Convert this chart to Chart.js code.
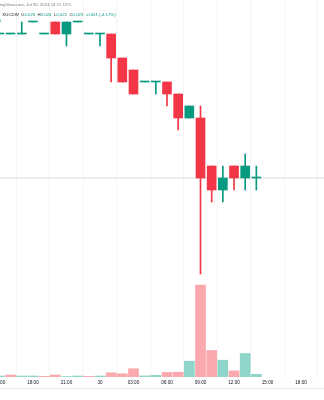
<!DOCTYPE html>
<html>
<head>
<meta charset="utf-8">
<script src="https://cdn.jsdelivr.net/npm/chart.js@4.4.1/dist/chart.umd.min.js"></script>
<style>
  html, body { margin: 0; padding: 0; background: #fff; }
  #wrap { position: relative; width: 324px; height: 400px; overflow: hidden; font-family: "Liberation Sans", Arial, sans-serif; }
  #chart { position: absolute; left: 0; top: 0; }
  .hdr { position: absolute; white-space: nowrap; font-size: 4.3px; line-height: 6px; }
  #l1 { left: -9px; top: 2px; color: #787b86; }
  #l2 { left: 2.5px; top: 12px; color: #131722; }
  #l2 .v { color: #089981; }
  #l3 { left: -1.5px; top: 18px; color: #089981; }
  #sep { position: absolute; left: 0; top: 388px; width: 324px; height: 1px; background: #eceef2; }
</style>
</head>
<body>
<div id="wrap">
  <canvas id="chart" width="324" height="400"></canvas>
  <div class="hdr" id="l1">TradingView.com, Jul 30, 2024 14:21 UTC</div>
  <div class="hdr" id="l2">KUCDW &nbsp;O<span class="v">0.023</span> &nbsp;H<span class="v">0.024</span> &nbsp;L<span class="v">0.022</span> &nbsp;C<span class="v">0.023</span> &nbsp;<span class="v">-0.001 (-4.17%)</span></div>
  <div class="hdr" id="l3">4</div>
  <div id="sep"></div>
</div>
<script>
// hourly candles, Jul 29 15:00 -> Jul 30 14:00 (UTC)
const hours = ['15:00', '16:00', '17:00', '18:00', '19:00', '20:00', '21:00', '22:00', '23:00',
               '00:00', '01:00', '02:00', '03:00', '04:00', '05:00', '06:00', '07:00', '08:00',
               '09:00', '10:00', '11:00', '12:00', '13:00', '14:00'];
const open  = [0.035, 0.035, 0.035, 0.036, 0.035, 0.036, 0.035, 0.036, 0.035, 0.035, 0.035, 0.033,
               0.032, 0.031, 0.031, 0.031, 0.030, 0.028, 0.028, 0.024, 0.022, 0.024, 0.023, 0.023];
const high  = [0.035, 0.035, 0.036, 0.036, 0.035, 0.036, 0.036, 0.036, 0.035, 0.035, 0.035, 0.033,
               0.032, 0.031, 0.031, 0.031, 0.030, 0.029, 0.029, 0.024, 0.024, 0.024, 0.025, 0.024];
const low   = [0.035, 0.035, 0.035, 0.036, 0.035, 0.035, 0.034, 0.036, 0.035, 0.034, 0.031, 0.031,
               0.030, 0.031, 0.030, 0.029, 0.027, 0.028, 0.015, 0.021, 0.021, 0.022, 0.022, 0.022];
const close = [0.035, 0.035, 0.035, 0.036, 0.035, 0.035, 0.036, 0.036, 0.035, 0.035, 0.033, 0.031,
               0.030, 0.031, 0.031, 0.030, 0.028, 0.029, 0.023, 0.022, 0.023, 0.023, 0.024, 0.023];
const volume = [20, 40, 20, 20, 14, 40, 10, 20, 14, 20, 84, 64,
                166, 22, 34, 92, 96, 316, 1840, 530, 336, 124, 470, 54];
const volumeUp = [1, 0, 1, 1, 0, 0, 1, 1, 0, 1, 0, 0,
                  0, 1, 1, 0, 0, 1, 0, 0, 1, 0, 1, 1];
// time axis labels every 3 hours, starting at Jul 29 15:00
const tickLabels = ['15:00', '18:00', '21:00', '30', '03:00', '06:00', '09:00', '12:00', '15:00', '18:00'];

const UP = '#089981', DOWN = '#F23645';
const VOL_UP = 'rgba(34, 171, 148, 0.5)', VOL_DOWN = 'rgba(247, 82, 95, 0.5)';
const lastClose = close[close.length - 1];
const candleColors = open.map((o, i) => close[i] >= o ? UP : DOWN);

const ctx = document.getElementById('chart').getContext('2d');
new Chart(ctx, {
    type: 'bar',
    data: {
        datasets: [{
            label: 'Body',
            data: hours.map((h, i) => ({ x: i, y: [open[i], close[i]] })),
            backgroundColor: candleColors,
            barThickness: 9,
            minBarLength: 1,
            grouped: false,
            yAxisID: 'y',
            order: 0
        }, {
            label: 'Wick',
            data: hours.map((h, i) => ({ x: i, y: [low[i], high[i]] })),
            backgroundColor: candleColors,
            barThickness: 1,
            grouped: false,
            yAxisID: 'y',
            order: 1
        }, {
            type: 'line',
            label: 'Last',
            data: [{ x: 0, y: lastClose }, { x: 30, y: lastClose }],
            borderColor: '#dddddd',
            borderWidth: 1,
            pointRadius: 0,
            yAxisID: 'y',
            order: 2
        }, {
            label: 'Volume',
            data: hours.map((h, i) => ({ x: i, y: volume[i] })),
            backgroundColor: volumeUp.map(u => u ? VOL_UP : VOL_DOWN),
            barThickness: 10,
            grouped: false,
            yAxisID: 'yv',
            order: 3
        }]
    },
    options: {
        responsive: false,
        animation: false,
        devicePixelRatio: 1,
        layout: { padding: 0 },
        plugins: {
            legend: { display: false },
            tooltip: { enabled: false }
        },
        scales: {
            x: {
                type: 'linear',
                min: 0.05,
                max: 29.056,
                offset: false,
                afterBuildTicks: axis => {
                    axis.ticks = tickLabels.map((t, i) => ({ value: i * 3 }));
                },
                afterFit: axis => {
                    axis.height = 23;
                    axis.paddingLeft = 0;
                    axis.paddingRight = 0;
                },
                ticks: {
                    autoSkip: false,
                    maxRotation: 0,
                    padding: 3,
                    color: '#131722',
                    font: { size: 4.6, family: 'Liberation Sans' },
                    callback: (v, i) => tickLabels[i]
                },
                grid: { color: '#f4f4f4', drawTicks: false },
                border: { display: false }
            },
            y: {
                display: false,
                min: 0.0064167,
                max: 0.0378333
            },
            yv: {
                display: false,
                min: 0,
                max: 7540
            }
        }
    }
});
</script>
</body>
</html>
